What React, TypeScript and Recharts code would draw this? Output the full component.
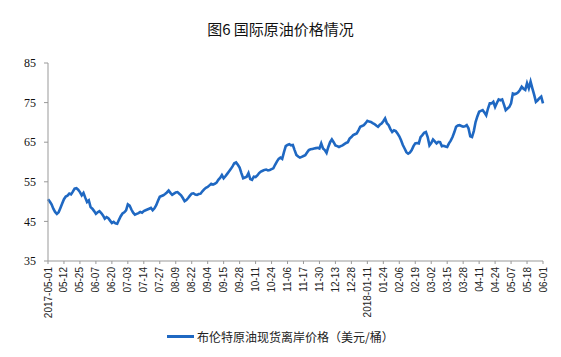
import { LineChart, Line, XAxis, YAxis } from "recharts";

const tickLabels = [
  "2017-05-01", "05-12", "05-25", "06-07", "06-20", "07-03", "07-14", "07-27",
  "08-09", "08-22", "09-04", "09-15", "09-28", "10-11", "10-24", "11-06",
  "11-17", "11-30", "12-13", "12-28", "2018-01-11", "01-24", "02-06", "02-19",
  "03-02", "03-15", "03-28", "04-11", "04-24", "05-07", "05-18", "06-01",
];

// 布伦特原油现货离岸价格, one value per trading day
const brent = [
  50.6, 50.0, 49.3, 48.2, 47.4, 46.9, 47.3, 48.4, 49.5, 50.6,
  51.3, 51.5, 52.0, 51.8, 52.5, 53.3, 53.4, 53.0, 52.4, 51.6,
  52.2, 51.0, 49.9, 50.3, 48.6, 48.2, 47.6, 46.9, 47.3, 47.6,
  47.1, 46.5, 45.7, 46.1, 45.8, 45.2, 44.6, 44.9, 44.5, 44.4,
  45.4, 46.3, 47.0, 47.3, 47.8, 49.3, 49.0, 48.0, 47.2, 46.7,
  46.9, 47.1, 47.4, 47.2, 47.6, 47.8, 48.0, 48.2, 48.4, 47.8,
  48.3, 49.1, 50.2, 51.2, 51.4, 51.6, 51.9, 52.3, 52.8, 52.2,
  51.7, 52.0, 52.3, 52.4, 52.0, 51.6, 50.9, 50.1, 50.4, 50.9,
  51.5, 52.0, 52.1, 51.8, 51.7, 51.9, 52.0, 52.6, 53.1, 53.5,
  53.7, 54.1, 54.5, 54.3, 54.5, 54.8, 55.5, 56.0, 56.7, 55.9,
  56.4, 57.0, 57.6, 58.2, 58.9, 59.7, 59.9, 59.3, 58.6, 57.2,
  55.9, 56.1, 56.3, 57.2, 55.7, 55.5, 56.3, 56.2, 56.6, 57.2,
  57.6, 57.8, 58.0, 58.1, 57.9, 58.0, 58.2, 58.4, 59.3, 60.1,
  60.8, 61.1, 60.8, 62.5, 64.0, 64.3, 64.5, 64.2, 64.3, 63.0,
  61.8, 61.4, 61.1, 61.3, 61.5, 61.7, 62.4, 63.0, 63.2, 63.3,
  63.4, 63.5, 63.6, 63.4, 64.7, 63.4, 63.0, 62.3, 63.8, 65.0,
  65.7, 65.0, 64.2, 64.0, 63.8, 64.0, 64.2, 64.5, 64.8, 65.0,
  65.9, 66.3, 66.8, 67.0, 67.2, 68.0, 68.9, 69.1, 69.3, 69.8,
  70.4, 70.2, 70.1, 69.8, 69.6, 69.2, 68.9, 69.4, 69.7, 70.3,
  71.0, 69.8, 69.3, 68.3, 67.6, 68.0, 67.8, 67.2, 66.5, 65.5,
  64.3, 63.4, 62.5, 62.1, 62.4, 63.0, 64.0, 64.7, 64.8, 64.7,
  66.3, 66.8, 67.4, 67.6, 66.3, 64.2, 64.8, 65.7, 65.2, 64.7,
  65.1, 65.0, 64.0, 64.1, 63.9, 63.8, 64.7, 65.4, 66.3, 67.5,
  68.9, 69.2, 69.3, 69.1, 68.9, 69.0, 69.3, 68.5, 66.5, 66.3,
  67.8, 70.1, 71.5, 72.7, 72.9, 73.1, 72.5, 71.8, 73.5, 74.8,
  74.8, 75.2, 73.9, 74.9, 75.8, 75.6, 75.8, 74.5, 73.1, 73.5,
  73.9, 74.8, 77.3, 77.1, 77.3, 77.6, 78.2, 79.0, 78.5, 78.2,
  79.9, 78.6, 80.3, 78.6, 77.0, 75.2, 75.6, 76.1, 76.5, 74.8,
];

const yTicks = [35, 45, 55, 65, 75, 85];
const TICK_STEP = 9; // one label every 9 trading days

const data = brent.map((v, i) => ({ i, v }));
const xTicks = tickLabels.map((_, k) => k * TICK_STEP);

const XTick = ({ x, y, payload }: any) => (
  <text
    x={x}
    y={y}
    transform={`rotate(-90 ${x} ${y})`}
    textAnchor="end"
    dy="0.35em"
    dx={-1}
    fontSize={10}
    fontFamily="'Liberation Sans', Arial, sans-serif"
    fill="#222"
  >
    {tickLabels[Math.round(payload.value / TICK_STEP)]}
  </text>
);

export default function App() {
  return (
    <div style={{ position: "absolute", left: 0, top: 0, width: 561, height: 357, background: "#fff" }}>
      <div
        style={{
          position: "absolute",
          top: 18,
          width: 561,
          textAlign: "center",
          fontSize: 15,
          fontFamily: "'Noto Sans CJK SC', sans-serif",
          fontWeight: 400,
          color: "#111",
        }}
      >
        图6 国际原油价格情况
      </div>
      <LineChart width={561} height={357} data={data} margin={{ top: 63, right: 18, left: 8, bottom: 0 }}>
        <XAxis
          type="number"
          dataKey="i"
          domain={[0, brent.length - 1]}
          ticks={xTicks}
          interval={0}
          tick={<XTick />}
          tickSize={3}
          stroke="#999"
          height={96}
        />
        <YAxis
          domain={[35, 85]}
          ticks={yTicks}
          width={40}
          tickSize={4}
          stroke="#999"
          tick={{ fill: "#111", fontSize: 12, fontFamily: "'Liberation Serif', serif", dx: -6 }}
        />
        <Line
          type="linear"
          dataKey="v"
          stroke="#1f68c2"
          strokeWidth={2.6}
          dot={false}
          isAnimationActive={false}
        />
      </LineChart>
      <div
        style={{
          position: "absolute",
          top: 328,
          left: 167,
          display: "flex",
          alignItems: "center",
          fontSize: 12,
          fontFamily: "'Noto Sans CJK SC', sans-serif",
          color: "#222",
        }}
      >
        <span style={{ display: "inline-block", width: 27, height: 3, background: "#1f68c2", marginRight: 3 }} />
        布伦特原油现货离岸价格（美元/桶）
      </div>
    </div>
  );
}
